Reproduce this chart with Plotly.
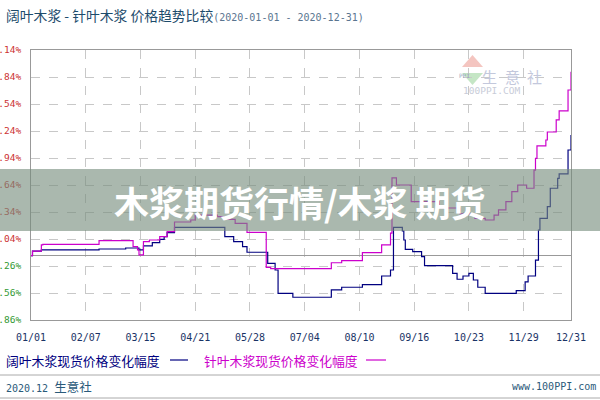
import plotly.graph_objects as go

# ---------------- data ----------------
hard_dates = ['2020-01-01', '2020-01-02', '2020-01-08', '2020-02-16', '2020-03-05', '2020-03-14',
              '2020-03-17', '2020-03-23', '2020-03-28', '2020-03-31', '2020-04-02', '2020-04-07',
              '2020-05-11', '2020-05-17', '2020-05-23', '2020-05-26', '2020-06-09', '2020-06-14',
              '2020-06-16', '2020-06-26', '2020-07-22', '2020-07-29', '2020-08-12', '2020-08-25',
              '2020-08-31', '2020-09-02', '2020-09-08', '2020-09-09', '2020-09-10', '2020-09-15',
              '2020-09-21', '2020-09-23', '2020-10-12', '2020-10-15', '2020-10-19', '2020-10-23',
              '2020-10-26', '2020-10-29', '2020-11-03', '2020-11-24', '2020-11-30', '2020-12-02',
              '2020-12-07', '2020-12-09', '2020-12-10', '2020-12-15', '2020-12-17', '2020-12-22',
              '2020-12-23', '2020-12-29', '2020-12-31']
hard_vals = [0.0, 0.57, 0.70, 0.82, 0.94, 0.70,
             1.19, 1.59, 2.00, 2.32, 2.81, 3.47,
             2.32, 1.71, 1.10, 0.42, -0.93, -1.75,
             -4.60, -5.08, -4.19, -3.86, -3.54, -2.48,
             -1.75, 3.47, 3.02, 1.92, 0.78, 0.49,
             -0.12, -1.22, -2.15, -2.88, -2.48, -2.15,
             -2.97, -3.86, -4.60, -4.28, -3.21, -2.48,
             -0.53, 3.14, 4.55, 5.99, 8.24, 9.46,
             9.99, 12.92, 14.75]

soft_dates = ['2020-01-01', '2020-01-02', '2020-01-08', '2020-01-09', '2020-02-16', '2020-03-10',
              '2020-03-13', '2020-03-14', '2020-03-17', '2020-03-21', '2020-03-28', '2020-04-02',
              '2020-04-07', '2020-04-18', '2020-04-21', '2020-05-06', '2020-05-12', '2020-05-18',
              '2020-05-26', '2020-06-08', '2020-06-11', '2020-07-22', '2020-07-29', '2020-08-12',
              '2020-08-25', '2020-08-31', '2020-09-01', '2020-09-04', '2020-09-14', '2020-10-03',
              '2020-10-17', '2020-10-27', '2020-11-03', '2020-11-09', '2020-11-12', '2020-11-17',
              '2020-11-21', '2020-11-25', '2020-12-01', '2020-12-06', '2020-12-07', '2020-12-08',
              '2020-12-14', '2020-12-15', '2020-12-21', '2020-12-23', '2020-12-29', '2020-12-31']
soft_vals = [0.0, 0.57, 1.31, 1.39, 1.83, 1.10,
             0.70, 0.09, 1.71, 1.92, 2.32, 2.93,
             4.12, 4.36, 4.97, 4.77, 4.45, 3.96,
             2.84, -1.42, -1.59, -0.86, -0.61, 0.37,
             1.31, 2.77, 9.50, 8.64, 6.60, 5.83,
             5.10, 4.57, 4.36, 4.97, 5.59, 6.60,
             7.82, 8.64, 8.24, 10.47, 11.90, 13.41,
             14.14, 15.12, 16.59, 17.69, 20.25, 22.49]

y_ticks = [25.14, 21.84, 18.54, 15.24, 11.94, 8.64, 5.34, 2.04, -1.26, -4.56, -7.86]
x_tick_dates = ['2020-01-01', '2020-02-07', '2020-03-15', '2020-04-21', '2020-05-28', '2020-07-04',
                '2020-08-10', '2020-09-16', '2020-10-23', '2020-11-29', '2020-12-31']
x_tick_labels = ['01/01', '02/07', '03/15', '04/21', '05/28', '07/04',
                 '08/10', '09/16', '10/23', '11/29', '12/31']

series_names = ['阔叶木浆现货价格变化幅度', '针叶木浆现货价格变化幅度']
title_cn = '阔叶木浆 - 针叶木浆 价格趋势比较'
title_range = '(2020-01-01 - 2020-12-31)'
banner_text = '木浆期货行情/木浆 期货'
logo_chars = ['生', '意', '社']

# ---------------- layout geometry ----------------
W, H = 600, 400
L, R, T, B = 31, 29, 50, 80
PW, PH = W - L - R, H - T - B

def px(x):
    return (x - L) / PW

def py(y):
    return (H - B - y) / PH

NAVY = '#000080'
MAG = '#cc00cc'
CJK = 'Noto Sans CJK SC'
MONO = 'DejaVu Sans Mono'

fig = go.Figure()
fig.add_trace(go.Scatter(x=hard_dates, y=hard_vals, mode='lines', line_shape='hv',
                         line=dict(color=NAVY, width=1.2), name=series_names[0],
                         showlegend=False))
fig.add_trace(go.Scatter(x=soft_dates, y=soft_vals, mode='lines', line_shape='hv',
                         line=dict(color=MAG, width=1.2), name=series_names[1],
                         showlegend=False))

ytext = []
for v in y_ticks:
    c = '#cc3333' if v > 0 else '#339933'
    ytext.append('<span style="color:%s">%.2f%%</span>' % (c, v))

fig.update_layout(
    width=W, height=H,
    margin=dict(l=L, r=R, t=T, b=B, autoexpand=False),
    paper_bgcolor='white', plot_bgcolor='white',
    xaxis=dict(type='date', range=['2020-01-01', '2020-12-31'], automargin=False,
               tickvals=x_tick_dates, ticktext=x_tick_labels,
               tickfont=dict(family=MONO, size=10, color='#1a3366'),
               ticks='outside', ticklen=8, tickcolor='rgba(0,0,0,0)',
               showgrid=True, gridcolor='#c8c8c8', griddash='dash', gridwidth=1,
               showline=True, linecolor='#999999', linewidth=1, mirror=True,
               zeroline=False),
    yaxis=dict(range=[-7.86, 25.14], tickvals=y_ticks, ticktext=ytext, automargin=False,
               tickfont=dict(family=MONO, size=9.5),
               ticks='outside', ticklen=7, tickcolor='rgba(0,0,0,0)',
               showgrid=True, gridcolor='#c8c8c8', griddash='dash', gridwidth=1,
               showline=True, linecolor='#999999', linewidth=1, mirror=True,
               zeroline=True, zerolinecolor='#999999', zerolinewidth=1.2),
)

shapes = []
annotations = []

# title
annotations.append(dict(
    xref='paper', yref='paper', x=px(4), y=py(15), xanchor='left', yanchor='middle',
    showarrow=False,
    text=('<span style="font-family:%s;font-size:13.8px;color:#1d4b6b">%s</span>'
          '<span style="font-family:%s;font-size:10px;color:#5a7590">%s</span>')
         % (CJK, title_cn, MONO, title_range)))

# watermark logo (top right)
shapes.append(dict(type='path', xref='paper', yref='paper', layer='below',
                   path='M %f %f L %f %f L %f %f Z' % (px(462), py(67), px(472.5), py(55), px(483), py(67)),
                   fillcolor='rgba(235,150,140,0.55)', line=dict(width=0)))
shapes.append(dict(type='path', xref='paper', yref='paper', layer='below',
                   path='M %f %f L %f %f L %f %f Z' % (px(462), py(73), px(472.5), py(85), px(483), py(73)),
                   fillcolor='rgba(150,210,150,0.55)', line=dict(width=0)))
annotations.append(dict(xref='paper', yref='paper', x=px(472.5), y=py(70), showarrow=False,
                        text='PPI', font=dict(family=MONO, size=6, color='#9aa6c0')))
for cx, ch in zip([499, 521.5, 543.5], logo_chars):
    annotations.append(dict(xref='paper', yref='paper', x=px(cx), y=py(64), showarrow=False,
                            text=ch, font=dict(family=CJK, size=15, color='#c3c8dc')))
annotations.append(dict(xref='paper', yref='paper', x=px(522), y=py(82.5), showarrow=False,
                        text='100PPI.COM', font=dict(family=MONO, size=9.5, color='#c8ccd8')))

# banner overlay
shapes.append(dict(type='rect', xref='paper', yref='paper', layer='above',
                   x0=px(0), x1=px(600), y0=py(231), y1=py(169),
                   fillcolor='rgba(118,140,124,0.62)', line=dict(width=0)))
annotations.append(dict(xref='paper', yref='paper', x=px(300), y=py(201), showarrow=False,
                        text='<b>%s</b>' % banner_text,
                        font=dict(family=CJK, size=35, color='white')))

# legend row
annotations.append(dict(xref='paper', yref='paper', x=px(4), y=py(360), xanchor='left',
                        yanchor='middle', showarrow=False, text=series_names[0],
                        font=dict(family=CJK, size=12.8, color=NAVY)))
shapes.append(dict(type='line', xref='paper', yref='paper', x0=px(170), x1=px(188),
                   y0=py(360), y1=py(360), line=dict(color=NAVY, width=1.2)))
annotations.append(dict(xref='paper', yref='paper', x=px(202), y=py(360), xanchor='left',
                        yanchor='middle', showarrow=False, text=series_names[1],
                        font=dict(family=CJK, size=12.8, color=MAG)))
shapes.append(dict(type='line', xref='paper', yref='paper', x0=px(366), x1=px(386),
                   y0=py(360), y1=py(360), line=dict(color=MAG, width=1.2)))

# footer
shapes.append(dict(type='line', xref='paper', yref='paper', x0=px(0), x1=px(600),
                   y0=py(375), y1=py(375), line=dict(color='#aaaaaa', width=1)))
shapes.append(dict(type='line', xref='paper', yref='paper', x0=px(0), x1=px(600),
                   y0=py(398), y1=py(398), line=dict(color='#aaaaaa', width=1)))
annotations.append(dict(
    xref='paper', yref='paper', x=px(4), y=py(386), xanchor='left', yanchor='middle',
    showarrow=False,
    text=('<span style="font-family:%s;font-size:10px;color:#2a5a7a">2020.12 </span>'
          '<span style="font-family:%s;font-size:12.5px;color:#2a5a7a">生意社</span>') % (MONO, CJK)))
annotations.append(dict(xref='paper', yref='paper', x=px(598), y=py(386), xanchor='right',
                        yanchor='middle', showarrow=False, text='www.100PPI.com',
                        font=dict(family=MONO, size=10, color='#2a5a7a')))

fig.update_layout(shapes=shapes, annotations=annotations)
fig.write_html('out.html')
